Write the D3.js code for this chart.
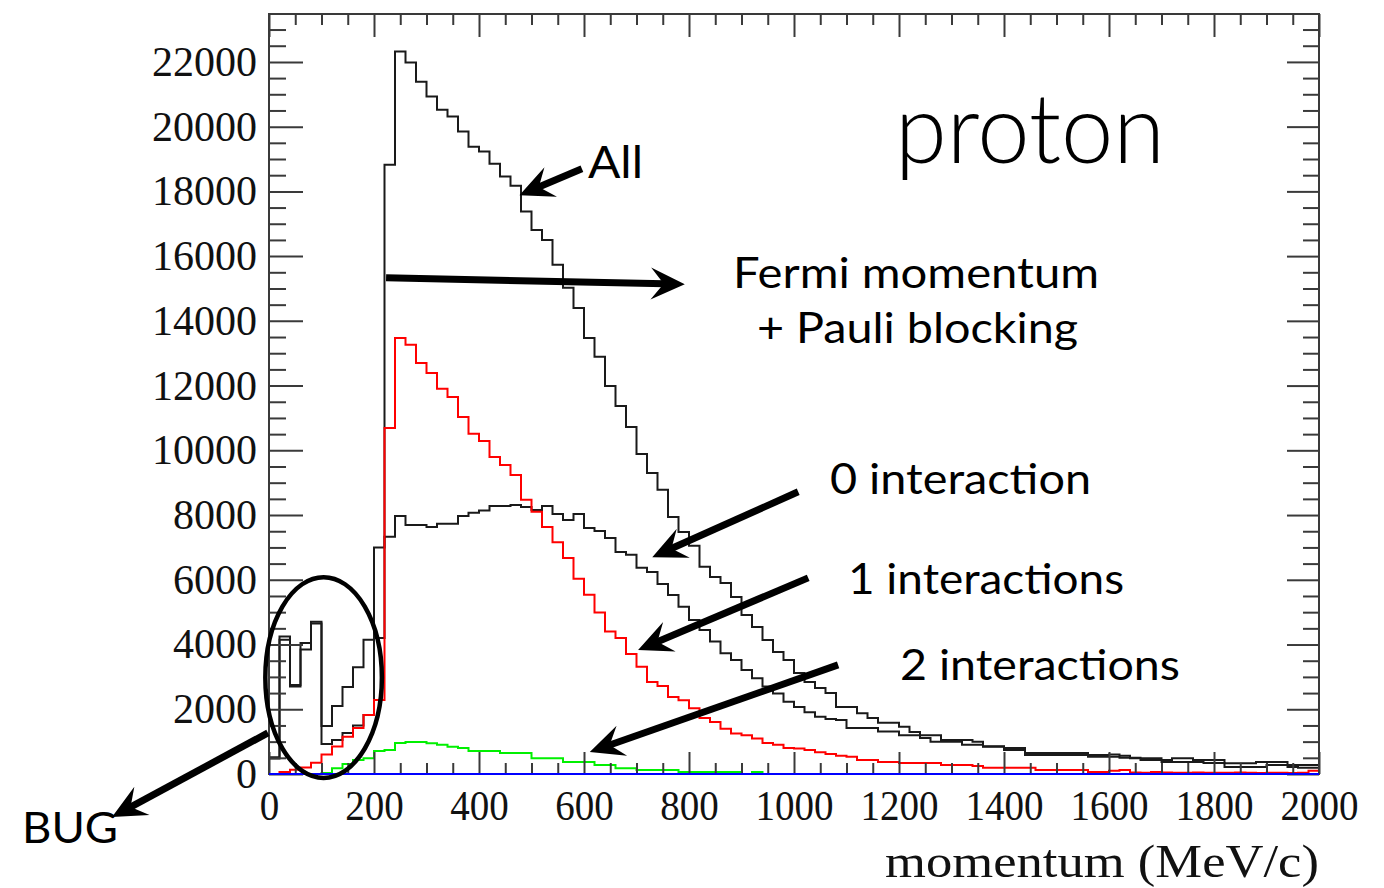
<!DOCTYPE html>
<html>
<head>
<meta charset="utf-8">
<script src="https://cdn.jsdelivr.net/npm/d3@7"></script>
<style>
  html, body { margin: 0; padding: 0; background: #fff; }
  svg { display: block; }
</style>
</head>
<body>
<div id="chart"></div>
<script>
// momentum bins: 100 bins of 20 MeV/c from 0 to 2000
var binWidth = 20;
var xTicks = [0, 200, 400, 600, 800, 1000, 1200, 1400, 1600, 1800, 2000];
var yTicks = [0, 2000, 4000, 6000, 8000, 10000, 12000, 14000, 16000, 18000, 20000, 22000];

var allCounts = [520, 4250, 2750, 4050, 4700, 1480, 2100, 2690, 3300, 4150,
  7000, 18820, 22320, 21980, 21390, 20930, 20520, 20310, 19850, 19380,
  19230, 18850, 18460, 18170, 17380, 16810, 16500, 15730, 15020, 14400,
  13470, 12890, 11990, 11370, 10720, 9890, 9300, 8780, 7940, 7480,
  7050, 6400, 6090, 5900, 5470, 4910, 4540, 4140, 3770, 3520,
  3120, 2840, 2660, 2500, 2070, 2070, 1880, 1730, 1580, 1580,
  1460, 1300, 1200, 1200, 1050, 1050, 1050, 1000, 860, 860,
  800, 800, 650, 650, 650, 650, 650, 650, 590, 590,
  600, 560, 490, 490, 490, 370, 490, 490, 430, 430,
  430, 330, 330, 330, 370, 370, 370, 220, 280, 280];

var zeroInt = [480, 4150, 2700, 3850, 4650, 930, 1050, 1270, 1500, 1820,
  4200, 7330, 7970, 7690, 7690, 7630, 7730, 7730, 7970, 8070,
  8140, 8280, 8280, 8310, 8250, 8160, 8280, 8030, 7850, 8030,
  7600, 7510, 7290, 6860, 6770, 6370, 6240, 5870, 5530, 5170,
  4760, 4450, 4090, 3730, 3520, 3210, 2960, 2700, 2490, 2230,
  2070, 1910, 1770, 1700, 1670, 1420, 1420, 1420, 1310, 1310,
  1200, 1200, 1110, 1000, 1000, 1000, 900, 900, 840, 840,
  740, 740, 590, 590, 590, 590, 590, 590, 530, 530,
  530, 500, 500, 430, 430, 430, 370, 370, 370, 340,
  340, 220, 220, 220, 220, 280, 280, 280, 190, 190];

var oneInt = [0, 60, 130, 200, 350, 600, 850, 1150, 1420, 1820,
  2290, 10690, 13470, 13260, 12700, 12390, 11900, 11650, 11030, 10510,
  10290, 9790, 9550, 9240, 8470, 8100, 7630, 7160, 6670, 6030,
  5540, 4990, 4400, 4200, 3710, 3310, 2840, 2720, 2380, 2280,
  2030, 1730, 1610, 1400, 1250, 1200, 1100, 960, 900, 800,
  790, 740, 670, 620, 560, 530, 430, 430, 370, 370,
  340, 340, 340, 340, 280, 280, 280, 250, 190, 190,
  190, 190, 190, 120, 120, 120, 120, 120, 60, 60,
  100, 120, 50, 40, 60, 50, 40, 40, 50, 40,
  40, 40, 50, 40, 30, 40, 40, 30, 40, 100];

var twoInt = [0, 0, 0, 0, 0, 30, 180, 310, 430, 490,
  710, 740, 960, 990, 990, 950, 900, 840, 800, 710,
  710, 710, 650, 650, 650, 490, 490, 490, 370, 370,
  370, 280, 280, 180, 180, 120, 120, 120, 120, 60,
  60, 60, 60, 60, 60, 0, 60, 0, 0, 0,
  0, 0, 0, 0, 0, 0, 0, 0, 0, 0,
  0, 0, 0, 0, 0, 0, 0, 0, 0, 0,
  0, 0, 0, 0, 0, 0, 0, 0, 0, 0,
  0, 0, 0, 0, 0, 0, 0, 0, 0, 0,
  0, 0, 0, 0, 0, 0, 0, 0, 0, 0];

var threeInt = d3.range(100).map(function () { return 0; });

// annotations, in data units: [tail momentum, tail count, tip momentum, tip count]
var arrows = [
  [596, 18700, 477, 17880],
  [223, 15330, 792, 15130],
  [1008, 8720, 730, 6700],
  [1027, 6060, 703, 3830],
  [1084, 3370, 611, 680],
  [-2, 1270, -299, -1330]
];
var bugEllipse = {cx: 104, cy: 2980, rx: 111, ry: 3100};

var width = 1384, height = 888;
var margin = {left: 269, right: 65, top: 14, bottom: 114};

var svg = d3.select("#chart").append("svg")
  .attr("width", width)
  .attr("height", height);

var x = d3.scaleLinear().domain([0, 2000]).range([margin.left, width - margin.right]);
var y = d3.scaleLinear().domain([0, 23480]).range([height - margin.bottom, margin.top]);

var x0 = x.range()[0], x1 = x.range()[1], y0 = y.range()[0], y1 = y.range()[1];

// minor tick values
var xMinor = d3.range(0, 2001, 50).filter(function (d) { return d % 200 !== 0; });
var yMinor = d3.range(0, 23481, 500).filter(function (d) { return d % 2000 !== 0; });

function styleAxis(g) {
  g.select(".domain").remove();
  g.selectAll("line").attr("stroke", "#3a3a3a").attr("stroke-width", 2);
  g.selectAll("text")
    .attr("fill", "#111")
    .style("font-family", "'Liberation Serif', 'Times New Roman', serif")
    .style("font-size", "42px");
}

// histograms
var line = d3.line()
  .x(function (d) { return x(d[0]); })
  .y(function (d) { return y(d[1]); })
  .curve(d3.curveStepAfter);

function histPoints(values) {
  var pts = values.map(function (v, i) { return [i * binWidth, v]; });
  pts.push([values.length * binWidth, values[values.length - 1]]);
  return pts;
}

var series = [
  {values: allCounts, color: "#1a1a1a"},
  {values: zeroInt, color: "#1a1a1a"},
  {values: oneInt, color: "#ff0000"},
  {values: twoInt, color: "#00f000"},
  {values: threeInt, color: "#0000ff"}
];

svg.append("g").selectAll("path")
  .data(series)
  .enter().append("path")
  .attr("d", function (d) { return line(histPoints(d.values)); })
  .attr("fill", "none")
  .attr("stroke", function (d) { return d.color; })
  .attr("stroke-width", 2);

// frame
svg.append("rect")
  .attr("x", x0).attr("y", y1)
  .attr("width", x1 - x0).attr("height", y0 - y1)
  .attr("fill", "none")
  .attr("stroke", "#3a3a3a")
  .attr("stroke-width", 2);

// bottom axis (ticks pointing inside)
svg.append("g")
  .attr("transform", "translate(0," + y0 + ")")
  .call(d3.axisBottom(x).tickValues(xTicks).tickSize(-22).tickPadding(16).tickFormat(d3.format("d")))
  .call(styleAxis)
  .selectAll("text")
  .attr("textLength", function (d) { return String(d).length * 19.5; })
  .attr("lengthAdjust", "spacingAndGlyphs");
svg.append("g")
  .attr("transform", "translate(0," + y0 + ")")
  .call(d3.axisBottom(x).tickValues(xMinor).tickSize(-11).tickFormat(""))
  .call(styleAxis);

// top axis
svg.append("g")
  .attr("transform", "translate(0," + y1 + ")")
  .call(d3.axisTop(x).tickValues(xTicks).tickSize(-23).tickFormat(""))
  .call(styleAxis);
svg.append("g")
  .attr("transform", "translate(0," + y1 + ")")
  .call(d3.axisTop(x).tickValues(xMinor).tickSize(-11).tickFormat(""))
  .call(styleAxis);

// left axis
svg.append("g")
  .attr("transform", "translate(" + x0 + ",0)")
  .call(d3.axisLeft(y).tickValues(yTicks).tickSize(-34).tickPadding(12).tickFormat(d3.format("d")))
  .call(styleAxis);
svg.append("g")
  .attr("transform", "translate(" + x0 + ",0)")
  .call(d3.axisLeft(y).tickValues(yMinor).tickSize(-17).tickFormat(""))
  .call(styleAxis);

// right axis
svg.append("g")
  .attr("transform", "translate(" + x1 + ",0)")
  .call(d3.axisRight(y).tickValues(yTicks).tickSize(-32).tickFormat(""))
  .call(styleAxis);
svg.append("g")
  .attr("transform", "translate(" + x1 + ",0)")
  .call(d3.axisRight(y).tickValues(yMinor).tickSize(-16).tickFormat(""))
  .call(styleAxis);

// redraw the blue series on top of the bottom ticks
svg.append("path")
  .attr("d", line(histPoints(threeInt)))
  .attr("fill", "none")
  .attr("stroke", "#0000ff")
  .attr("stroke-width", 2);

// axis title
svg.append("text")
  .attr("x", x1)
  .attr("y", 877)
  .attr("text-anchor", "end")
  .attr("textLength", 434)
  .attr("lengthAdjust", "spacingAndGlyphs")
  .style("font-family", "'Liberation Serif', 'Times New Roman', serif")
  .style("font-size", "46px")
  .attr("fill", "#111")
  .text("momentum (MeV/c)");

// annotations
var ann = svg.append("g");

ann.append("ellipse")
  .attr("cx", x(bugEllipse.cx))
  .attr("cy", y(bugEllipse.cy))
  .attr("rx", x(bugEllipse.rx) - x(0))
  .attr("ry", y(0) - y(bugEllipse.ry))
  .attr("fill", "none")
  .attr("stroke", "#000")
  .attr("stroke-width", 4.5);

function drawArrow(a) {
  var tx = x(a[0]), ty = y(a[1]), hx = x(a[2]), hy = y(a[3]);
  var ang = Math.atan2(hy - ty, hx - tx);
  var L = 34, W = 16;
  var nx = hx - Math.cos(ang) * L * 0.6, ny = hy - Math.sin(ang) * L * 0.6;
  ann.append("line")
    .attr("x1", tx).attr("y1", ty)
    .attr("x2", nx).attr("y2", ny)
    .attr("stroke", "#000")
    .attr("stroke-width", 7);
  var head = [[0, 0], [-L, -W], [-L * 0.62, 0], [-L, W]];
  ann.append("path")
    .attr("d", "M" + head.map(function (p) { return p.join(","); }).join("L") + "Z")
    .attr("transform", "translate(" + hx + "," + hy + ") rotate(" + (ang * 180 / Math.PI) + ")")
    .attr("fill", "#000");
}
arrows.forEach(drawArrow);

var labels = [
  {text: "proton", x: 895, y: 163, size: 96, w: 270, weight: 300},
  {text: "All", x: 588, y: 178, size: 44, w: 55, weight: 400},
  {text: "Fermi momentum", x: 733, y: 288, size: 42, w: 366, weight: 400},
  {text: "+ Pauli blocking", x: 757, y: 343, size: 42, w: 321, weight: 400},
  {text: "0 interaction", x: 830, y: 494, size: 42, w: 261, weight: 400},
  {text: "1 interactions", x: 848, y: 594, size: 42, w: 276, weight: 400},
  {text: "2 interactions", x: 900, y: 680, size: 42, w: 280, weight: 400},
  {text: "BUG", x: 22, y: 843, size: 42, w: 96, weight: 400}
];

ann.selectAll("text.note")
  .data(labels)
  .enter().append("text")
  .attr("class", "note")
  .attr("x", function (d) { return d.x; })
  .attr("y", function (d) { return d.y; })
  .attr("textLength", function (d) { return d.w; })
  .attr("lengthAdjust", "spacingAndGlyphs")
  .style("font-family", "Lato, 'Open Sans', sans-serif")
  .style("font-size", function (d) { return d.size + "px"; })
  .style("font-weight", function (d) { return d.weight; })
  .attr("fill", "#000")
  .text(function (d) { return d.text; });
</script>
</body>
</html>
